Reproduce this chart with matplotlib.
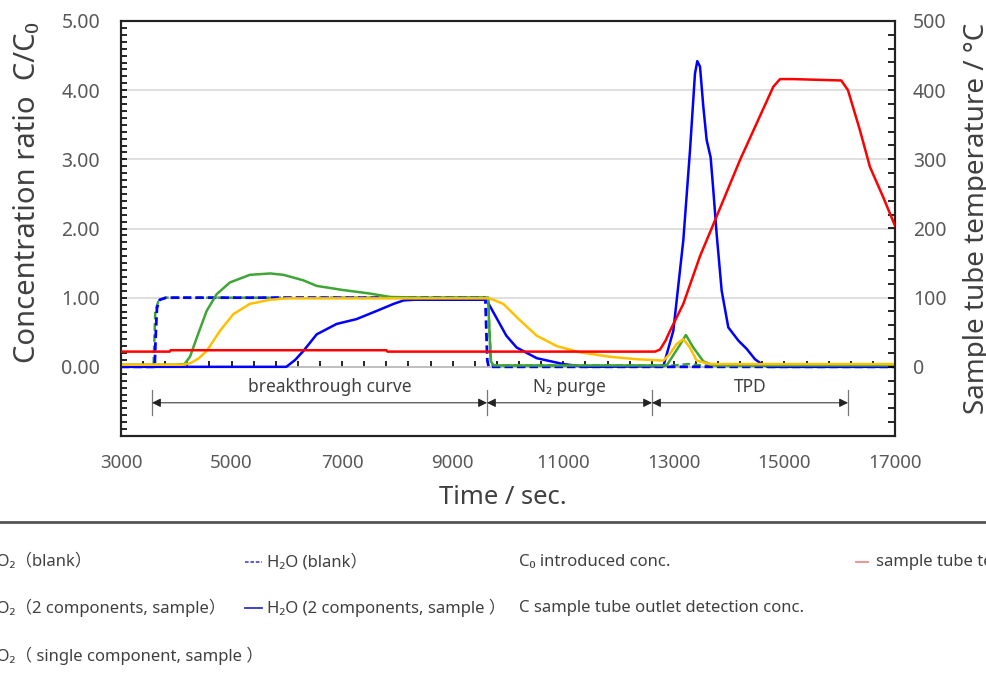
import numpy as np
import matplotlib
matplotlib.use("Agg")
import matplotlib.pyplot as plt
from matplotlib.lines import Line2D
from matplotlib.ticker import FixedLocator

plt.rcParams['font.family'] = ['Noto Sans', 'Noto Sans CJK JP', 'DejaVu Sans']

# ---------------- data ----------------
t_co2_blank = [3000, 3590, 3600, 3620, 3680, 3800, 9640, 9660, 9690, 9720, 13000, 13250, 13500, 17000]
v_co2_blank = [0.02, 0.02, 0.3, 0.8, 0.96, 1.0, 1.0, 0.6, 0.1, 0.02, 0.02, 0.04, 0.02, 0.02]

t_h2o_blank = [3000, 3610, 3625, 3650, 3700, 3820, 9590, 9605, 9625, 9650, 17000]
v_h2o_blank = [0.0, 0.0, 0.4, 0.85, 0.97, 1.0, 1.0, 0.6, 0.1, 0.0, 0.0]

t_co2_2c = [3000, 4000, 4150, 4250, 4370, 4550, 4730, 4970, 5330, 5700, 5940, 6300, 6540,
            7020, 7500, 7870, 8500, 9640, 9665, 9690, 9740, 12870, 13080, 13218, 13351,
            13533, 13714, 17000]
v_co2_2c = [0.03, 0.03, 0.04, 0.15, 0.42, 0.81, 1.05, 1.22, 1.33, 1.35, 1.33, 1.25, 1.17,
            1.11, 1.06, 1.01, 1.0, 1.0, 0.5, 0.08, 0.02, 0.02, 0.28, 0.46, 0.28,
            0.08, 0.02, 0.02]

t_co2_1c = [3000, 4100, 4250, 4400, 4550, 4790, 5030, 5330, 5700, 6000, 9650, 9730, 9915,
            10220, 10520, 10880, 11300, 11850, 12330, 12810, 12930, 13050, 13171, 13290,
            13413, 13655, 17000]
v_co2_1c = [0.03, 0.03, 0.05, 0.12, 0.23, 0.52, 0.76, 0.91, 0.97, 0.99, 0.99, 0.97, 0.91,
            0.67, 0.45, 0.30, 0.21, 0.145, 0.11, 0.09, 0.19, 0.33, 0.40, 0.28,
            0.09, 0.04, 0.04]

t_h2o_2c = [3000, 5990, 6150, 6300, 6540, 6900, 7260, 7630, 7930, 8110, 8300, 9600, 9615,
            9790, 9970, 10155, 10520, 11000, 11400, 12810, 12990, 13171, 13292, 13382,
            13424, 13473, 13533, 13593, 13665, 13714, 13774, 13865, 13985, 14166, 14317,
            14467, 14588, 14700, 17000]
v_h2o_2c = [0.0, 0.0, 0.1, 0.23, 0.47, 0.62, 0.69, 0.81, 0.91, 0.96, 0.97, 0.97, 0.96,
            0.71, 0.45, 0.28, 0.125, 0.04, 0.0, 0.01, 0.52, 1.83, 3.13, 4.24,
            4.42, 4.34, 3.76, 3.28, 3.03, 2.55, 1.92, 1.10, 0.57, 0.38, 0.26,
            0.11, 0.04, 0.0, 0.0]

t_temp = [3000, 3880, 3900, 7800, 7820, 12660, 12750, 12850, 12930, 13171, 13473, 13714,
          14196, 14799, 14920, 15161, 16028, 16149, 16366, 16547, 16788, 17000]
v_temp = [22, 22, 24, 24, 22, 22, 25, 38, 52, 91, 160, 206,
          299, 405, 416, 416, 414, 400, 342, 289, 245, 204]

phase_edges = [3561, 9620, 12605, 16150]
phase_labels = ['breakthrough curve', 'N₂ purge', 'TPD']
phase_label_x = [6780, 11120, 14380]

x_ticks = [3000, 5000, 7000, 9000, 11000, 13000, 15000, 17000]
y_ticks = [0, 1, 2, 3, 4, 5]
y2_ticks = [0, 100, 200, 300, 400, 500]

legend_rows = [
    [('CO₂（blank）', '#3FA535', (3, 1.5)), ('H₂O (blank）', '#5050E0', (2, 1)),
     ('C₀ introduced conc.', None, None), ('sample tube temperature', '#F08A8A', None)],
    [('CO₂（2 components, sample）', '#3FA535', None), ('H₂O (2 components, sample ）', '#3030D0', None),
     ('C sample tube outlet detection conc.', None, None)],
    [('CO₂（ single component, sample ）', '#FFC000', None)],
]

# ---------------- figure ----------------
W, H = 987, 677
fig = plt.figure(figsize=(W / 100, H / 100), dpi=100)
ax = fig.add_axes([121 / W, 1 - 436 / H, 774 / W, 415 / H])
ax.set_xlim(3000, 17000)
ylim = (-1.0, 5.0)
ax.set_ylim(*ylim)

tick_col = '#595959'
lab_col = '#404040'

ax.set_yticks(y_ticks)
ax.set_yticklabels([f'{v:.2f}' for v in y_ticks])
ax.yaxis.set_minor_locator(FixedLocator(np.round(np.arange(-1.0, 5.001, 0.1), 2)))
ax.tick_params(axis='y', which='both', direction='in', length=4, width=1.2,
               labelsize=14, labelcolor=tick_col, pad=15)
ax.set_xticks(x_ticks)
ax.set_xticklabels([str(v) for v in x_ticks])
ax.tick_params(axis='x', which='both', length=0, labelsize=13.5, labelcolor=tick_col, pad=13)
ax.yaxis.grid(True, which='major', color='#d9d9d9', lw=1.2)
ax.set_axisbelow(True)
for s in ax.spines.values():
    s.set_linewidth(1.5)
    s.set_color('#222222')

# zero line axis with ticks
loc0 = (0 - ylim[0]) / (ylim[1] - ylim[0])
sec = ax.secondary_xaxis(loc0)
sec.set_xticks(np.arange(3000, 17001, 400))
sec.tick_params(direction='in', length=4, width=1.2, labelbottom=False, labeltop=False)
sec.spines['bottom'].set_linewidth(1.2)
sec.spines['bottom'].set_color('#222222')

ax.plot(t_co2_blank, v_co2_blank, color='#3FA535', lw=1.8, dashes=(3, 1.5), zorder=3)
ax.plot(t_h2o_blank, v_h2o_blank, color='#0000FF', lw=2.0, dashes=(3, 1.5), zorder=4)
ax.plot(t_h2o_2c, v_h2o_2c, color='#0000FF', lw=1.8, zorder=5)
ax.plot(t_co2_2c, v_co2_2c, color='#3FA535', lw=1.8, zorder=6)
ax.plot(t_co2_1c, v_co2_1c, color='#FFC000', lw=1.8, zorder=7)

ax2 = ax.twinx()
ax2.set_ylim(-100, 500)
ax2.set_yticks(y2_ticks)
ax2.set_yticklabels([str(v) for v in y2_ticks])
ax2.yaxis.set_minor_locator(FixedLocator(np.arange(-100, 501, 20)))
ax2.tick_params(axis='y', which='both', direction='in', length=5, width=1.2,
                labelsize=14, labelcolor=tick_col, pad=13)
for s in ax2.spines.values():
    s.set_linewidth(1.5)
    s.set_color('#222222')
ax2.plot(t_temp, v_temp, color='#FF0000', lw=1.8, zorder=5)

# phase annotations
y_arrow = -0.52
for e in phase_edges:
    ax.plot([e, e], [-0.33, -0.70], color='#777777', lw=0.9, zorder=2)
for i, lab in enumerate(phase_labels):
    a, b = phase_edges[i], phase_edges[i + 1]
    ax.annotate('', xy=(b, y_arrow), xytext=(a, y_arrow),
                arrowprops=dict(arrowstyle='<|-|>', color='#222222', lw=0.7,
                                mutation_scale=13, shrinkA=0, shrinkB=0), zorder=3)
    ax.text(phase_label_x[i], -0.29, lab, ha='center', va='center', fontsize=12.5, color=lab_col)

# axis labels
fig.text(28 / W, 1 - 193 / H, 'Concentration ratio  C/C₀', rotation=90, ha='center',
         va='center', fontsize=21, color=lab_col)
fig.text(977 / W, 1 - 218 / H, 'Sample tube temperature / °C', rotation=90, ha='center',
         va='center', fontsize=20, color=lab_col)
fig.text(503 / W, 1 - 497 / H, 'Time / sec.', ha='center', va='center', fontsize=18.5,
         color=lab_col)

# separator
fig.add_artist(Line2D([0, 1], [1 - 522 / H, 1 - 522 / H], transform=fig.transFigure,
                      color='#555555', lw=2))

# legend (manual)
col_text_x = [-14, 267, 519, 876]
col_mark_x = [(-50, -25), (245, 262), None, (856, 868)]
row_y = [562, 608, 656]
for r, row in enumerate(legend_rows):
    for c, (txt, col, dash) in enumerate(row):
        y = 1 - row_y[r] / H
        if col is not None and col_mark_x[c] is not None:
            x0, x1 = col_mark_x[c]
            ln = Line2D([x0 / W, x1 / W], [y, y], transform=fig.transFigure, color=col, lw=1.3)
            if dash is not None:
                ln.set_dashes(dash)
            fig.add_artist(ln)
        fig.text(col_text_x[c] / W, y, txt, ha='left', va='center', fontsize=12, color=lab_col)

fig.savefig('out.png', dpi=100)
